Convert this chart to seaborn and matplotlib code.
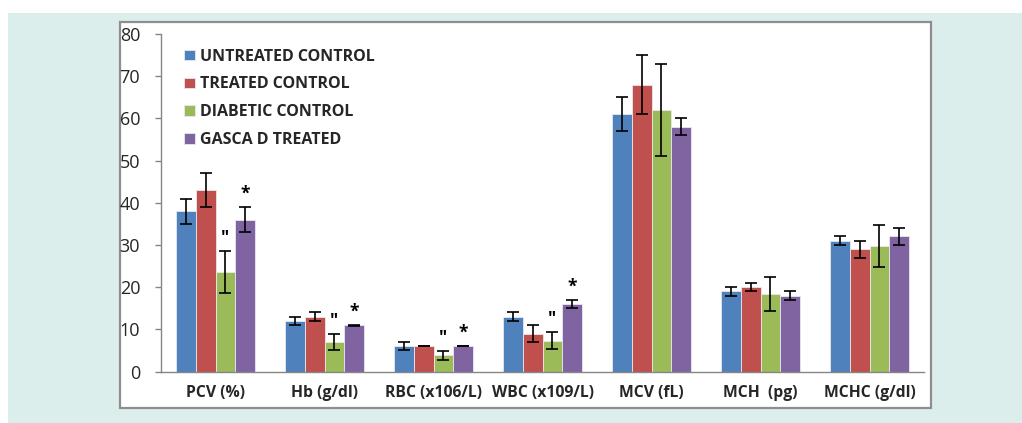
import numpy as np
import pandas as pd
import matplotlib
matplotlib.use("Agg")
import matplotlib.pyplot as plt
import seaborn as sns
from matplotlib.patches import Rectangle

categories = ["PCV (%)", "Hb (g/dl)", "RBC (x106/L)", "WBC (x109/L)", "MCV (fL)", "MCH  (pg)", "MCHC (g/dl)"]
groups = ["UNTREATED CONTROL", "TREATED CONTROL", "DIABETIC CONTROL", "GASCA D TREATED"]

untreated = [38, 12, 6, 13, 61, 19, 31]
treated = [43, 13, 6, 9, 68, 20, 29]
diabetic = [23.6, 7, 3.8, 7.3, 62, 18.3, 29.8]
gasca = [36, 11, 6, 16, 58, 18, 32]

untreated_err = [3, 1, 1, 1, 4, 1, 1]
treated_err = [4, 1, 0.05, 2, 7, 1, 2]
diabetic_err = [5, 2, 1, 2, 11, 4, 5]
gasca_err = [3, 0.1, 0.05, 1, 2, 1, 2]

diabetic_marks = ['"', '"', '"', '"', "", "", ""]
gasca_marks = ["*", "*", "*", "*", "", "", ""]

colors = ["#4F81BD", "#C0504D", "#9BBB59", "#8064A2"]

values = [untreated, treated, diabetic, gasca]
errors = [untreated_err, treated_err, diabetic_err, gasca_err]
marks = [[""] * 7, [""] * 7, diabetic_marks, gasca_marks]

rows = []
for g, vals in zip(groups, values):
    for c, v in zip(categories, vals):
        rows.append({"category": c, "group": g, "value": v})
df = pd.DataFrame(rows)

sns.set_style("white")
plt.rcParams["font.family"] = ["Open Sans", "DejaVu Sans"]

W, H = 1022, 423
fig = plt.figure(figsize=(W / 100, H / 100), dpi=100)
fig.patch.set_facecolor("white")
# teal panel
fig.patches.append(Rectangle((8 / W, 0), 1 - 8 / W, 1 - 13 / H, transform=fig.transFigure,
                             facecolor="#DCEEEC", edgecolor="none", zorder=-10))
# chart box
fig.patches.append(Rectangle((120 / W, (H - 408) / H), (931 - 120) / W, (408 - 22) / H,
                             transform=fig.transFigure, facecolor="white",
                             edgecolor="#8E8E8E", linewidth=1.6, zorder=-9))

ax = fig.add_axes([161 / W, (H - 371.5) / H, (924 - 161) / W, (371.5 - 34) / H])
ax.patch.set_alpha(0)

sns.barplot(data=df, x="category", y="value", hue="group", order=categories,
            hue_order=groups, palette=colors, width=0.72, errorbar=None,
            edgecolor="#E8E8F0", linewidth=0.6, saturation=1, ax=ax)

for cont, err, mk in zip(ax.containers, errors, marks):
    xs = [b.get_x() + b.get_width() / 2 for b in cont]
    hs = [b.get_height() for b in cont]
    ax.errorbar(xs, hs, yerr=err, fmt="none", ecolor="black", elinewidth=1.2,
                capsize=4, capthick=1.2, zorder=5)
    for x, h, e, m in zip(xs, hs, err, mk):
        if m:
            ax.text(x, h + e + 0.9, m, ha="center", va="bottom", fontsize=12.5,
                    fontweight="bold", color="black")

ax.set_xlim(-0.5, 6.5)
ax.set_ylim(0, 80)
ax.set_yticks(np.arange(0, 81, 10))
ax.set_yticklabels([str(v) for v in range(0, 81, 10)], fontsize=13)
ax.set_xticks(range(len(categories)))
ax.set_xticklabels(categories, fontsize=11.3, fontweight="bold")
ax.set_xticks(np.arange(-0.5, 7, 1), minor=True)
ax.tick_params(axis="x", which="major", length=0, pad=10)
ax.tick_params(axis="x", which="minor", length=4, color="#868686", width=1)
ax.tick_params(axis="y", which="major", length=4, color="#868686", width=1, pad=11, left=True)
ax.set_xlabel("")
ax.set_ylabel("")
for s in ["top", "right"]:
    ax.spines[s].set_visible(False)
for s in ["left", "bottom"]:
    ax.spines[s].set_color("#868686")
    ax.spines[s].set_linewidth(1)

leg = ax.legend(loc="upper left", bbox_to_anchor=(0.018, 0.985), frameon=False,
                prop={"weight": "bold", "size": 11.5}, handlelength=0.65,
                handleheight=0.65, handletextpad=0.35, labelspacing=0.74,
                borderaxespad=0.2)

fig.savefig("out.png", dpi=100)
